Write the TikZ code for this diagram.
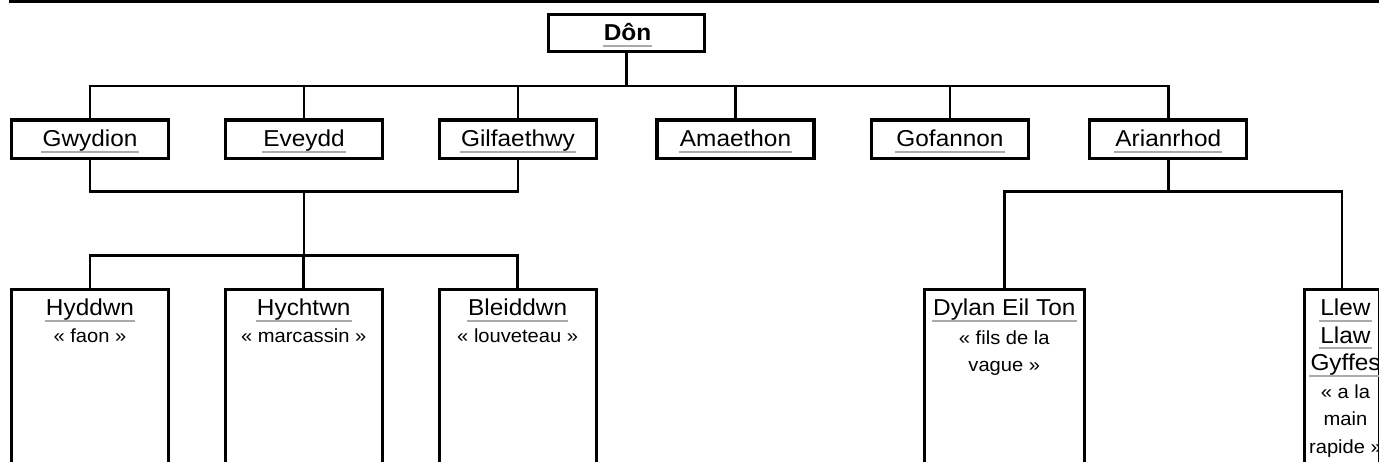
\documentclass[tikz,border=0pt]{standalone}
\usepackage{fontspec}
\setmainfont{Liberation Sans}[FakeStretch=1.06]
\definecolor{ulgray}{HTML}{AAAAAA}
\newsavebox\ulbox
\newcommand{\ulname}[1]{\sbox\ulbox{#1}\hbox to 0pt{\hskip-1.2pt\textcolor{ulgray}{\rule[-5.9pt]{\dimexpr\wd\ulbox+2.4pt\relax}{1.7pt}}\hss}\usebox\ulbox}
\tikzset{
  box/.style={draw, line width=3.2pt, minimum width=157pt, minimum height=38.5pt, inner sep=0pt},
  tall/.style={box, minimum height=230pt, anchor=north},
  nm/.style={anchor=base, inner sep=0pt, font=\fontsize{23}{27}\selectfont},
  sub/.style={anchor=base, inner sep=0pt, font=\fontsize{19}{27}\selectfont},
  link/.style={line width=2.8pt, line join=miter}
}
\begin{document}
\begin{tikzpicture}[x=1pt,y=-1pt]
\useasboundingbox (0,0) rectangle (1379,462);
\clip (0,0) rectangle (1379,462);
\fill (9,0) rectangle (1379,2.7);
% root
\node[box, minimum width=156.3pt, minimum height=37.6pt] (don) at (626.3,33) {};
\node[nm, font=\fontsize{23}{27}\selectfont\bfseries] (dont) at (627.5,40.7) {\ulname{Dôn}};
% second row
\node[box] (gwy) at (90,139.2) {};
\node[box] (eve) at (304,139.2) {};
\node[box] (gil) at (518,139.2) {};
\node[box] (ama) at (735.5,139.2) {};
\node[box] (gof) at (950,139.2) {};
\node[box] (ari) at (1168.3,139.2) {};
\node[nm] (gwyt) at (90,147) {\ulname{Gwydion}};
\node[nm] (evet) at (304,147) {\ulname{Eveydd}};
\node[nm] (gilt) at (518,147) {\ulname{Gilfaethwy}};
\node[nm] (amat) at (735.5,147) {\ulname{Amaethon}};
\node[nm] (goft) at (950,147) {\ulname{Gofannon}};
\node[nm] (arit) at (1168.3,147) {\ulname{Arianrhod}};
% third row
\node[tall] (hyd) at (90,288.3) {};
\node[tall] (hyc) at (303.7,288.3) {};
\node[tall] (ble) at (517.7,288.3) {};
\node[tall, minimum width=160pt] (dyl) at (1004.3,288.3) {};
\node[tall, minimum width=75.5pt] (lle) at (1342,288.3) {};
\node[nm] (hydt) at (90,315.7) {\ulname{Hyddwn}};
\node[sub] (hyds) at (90,342.7) {« faon »};
\node[nm] (hyct) at (303.7,315.7) {\ulname{Hychtwn}};
\node[sub] (hycs) at (303.7,342.7) {« marcassin »};
\node[nm] (blet) at (517.7,315.7) {\ulname{Bleiddwn}};
\node[sub] (bles) at (517.7,342.7) {« louveteau »};
\node[nm] (dylt) at (1004.3,315.7) {\ulname{Dylan Eil Ton}};
\node[sub] (dyls1) at (1004.3,344.5) {« fils de la};
\node[sub] (dyls2) at (1004.3,371.5) {vague »};
\node[nm] (llet1) at (1345.5,316) {\ulname{Llew}};
\node[nm] (llet2) at (1345.5,343.3) {\ulname{Llaw}};
\node[nm] (llet3) at (1345.5,370.7) {\ulname{Gyffes}};
\node[sub] (lles1) at (1345.5,398.3) {« a la};
\node[sub] (lles2) at (1345.5,425.5) {main};
\node[sub] (lles3) at (1345.5,453.3) {rapide »};
% connectors
\coordinate (bar1) at (626.3,86);
\draw[link] (don.south) -- (bar1);
\foreach \c in {gwy,eve,gil,ama,gof,ari} \draw[link] (bar1) -| (\c.north);
\coordinate (bar2) at (304,191.5);
\coordinate (bar3) at (304,255.5);
\draw[link] (gwy.south) |- (bar2);
\draw[link] (gil.south) |- (bar2);
\draw[link] (bar2) -- (bar3);
\foreach \c in {hyd,hyc,ble} \draw[link] (bar3) -| (\c.north);
\coordinate (bar4) at (1168.3,191.5);
\draw[link] (ari.south) -- (bar4);
\draw[link] (bar4) -| (dyl.north);
\draw[link] (bar4) -| (lle.north);
\end{tikzpicture}
\end{document}
